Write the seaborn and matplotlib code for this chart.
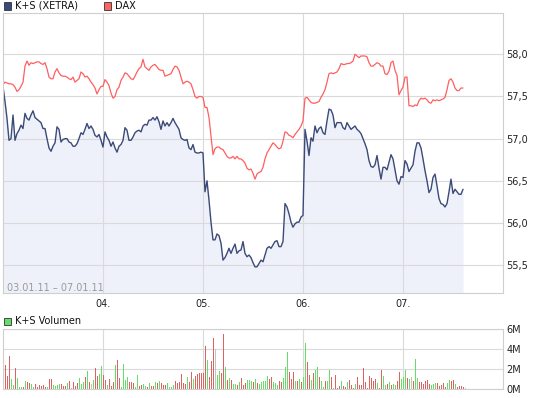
import numpy as np
import pandas as pd
import matplotlib
matplotlib.use("Agg")
import matplotlib.pyplot as plt
import seaborn as sns
from matplotlib.patches import Rectangle

# -----------------------------
# Data (intraday, 50 intervals per trading day)
# -----------------------------
ks = [
    57.62, 57.44, 57.24, 56.98, 57.00, 57.28, 56.98, 57.06, 57.10, 57.16,
    57.12, 57.30, 57.24, 57.22, 57.28, 57.33, 57.25, 57.23, 57.21, 57.19,
    57.12, 57.12, 57.00, 56.89, 56.85, 56.91, 56.95, 57.14, 57.11, 56.96,
    56.99, 57.00, 57.00, 56.96, 56.95, 56.91, 56.91, 56.94, 57.00, 57.07,
    57.05, 57.11, 57.18, 57.12, 57.15, 57.11, 57.04, 57.02, 57.05, 56.98,
    56.90, 57.08, 57.02, 56.98, 56.91, 56.96, 56.89, 56.84, 56.91, 56.93,
    56.98, 57.13, 57.10, 56.98, 56.98, 57.02, 57.07, 57.09, 57.10, 57.08,
    57.15, 57.17, 57.16, 57.22, 57.22, 57.25, 57.22, 57.26, 57.20,
    57.11, 57.21, 57.15, 57.19, 57.15, 57.19, 57.24, 57.19, 57.15, 57.11,
    57.01, 56.99, 56.98, 56.99, 56.89, 56.87, 56.93, 56.84, 56.83, 56.83,
    56.84, 56.83, 56.37, 56.50, 56.27, 56.01, 55.80, 55.80, 55.87, 55.85,
    55.76, 55.56, 55.59, 55.64, 55.70, 55.64, 55.70, 55.75, 55.64, 55.67,
    55.68, 55.78, 55.64, 55.60, 55.62, 55.59, 55.53, 55.48, 55.48, 55.52,
    55.56, 55.54, 55.62, 55.70, 55.72, 55.70, 55.74, 55.78, 55.79, 55.72,
    55.72, 55.78, 56.23, 56.19, 56.11, 56.01, 55.95, 55.99, 56.01, 56.01,
    56.07, 56.09, 57.11, 56.97, 56.80, 57.01, 56.97, 57.15,
    57.07, 57.12, 57.14, 57.07, 57.05, 57.21, 57.35, 57.34, 57.28, 57.13,
    57.19, 57.19, 57.19, 57.13, 57.11, 57.19, 57.15, 57.11, 57.13, 57.15,
    57.11, 57.09, 57.06, 57.00, 56.94, 56.87, 56.74, 56.67, 56.66, 56.69,
    56.80, 56.65, 56.52, 56.66, 56.66, 56.63, 56.72, 56.81, 56.76, 56.63,
    56.50, 56.46, 56.55, 56.54, 56.74, 56.70, 56.61, 56.65, 56.69, 56.85,
    56.95, 56.95, 56.89, 56.76, 56.62, 56.50, 56.36, 56.40, 56.54, 56.58,
    56.44, 56.29, 56.23, 56.22, 56.19, 56.23, 56.37, 56.52, 56.35, 56.40,
    56.37, 56.34, 56.34, 56.40,
]

# DAX, rescaled onto the K+S axis
dax = [
    57.64, 57.67, 57.66, 57.65, 57.65, 57.64, 57.61, 57.56, 57.58, 57.62,
    57.67, 57.86, 57.92, 57.87, 57.90, 57.89, 57.90, 57.91, 57.91, 57.89,
    57.88, 57.90, 57.83, 57.73, 57.71, 57.71, 57.79, 57.83, 57.78, 57.75,
    57.74, 57.74, 57.73, 57.71, 57.70, 57.73, 57.67, 57.69, 57.71, 57.79,
    57.77, 57.73, 57.74, 57.71, 57.67, 57.64, 57.60, 57.53, 57.58, 57.62,
    57.62, 57.70, 57.67, 57.63, 57.54, 57.48, 57.50, 57.58, 57.61, 57.69,
    57.73, 57.78, 57.77, 57.74, 57.71, 57.70, 57.74, 57.79, 57.83, 57.85,
    57.94, 57.85, 57.83, 57.81, 57.85, 57.87, 57.88, 57.85, 57.82,
    57.81, 57.81, 57.74, 57.75, 57.76, 57.77, 57.82, 57.86, 57.85, 57.81,
    57.73, 57.65, 57.67, 57.68, 57.67, 57.65, 57.58, 57.50, 57.48, 57.50,
    57.50, 57.49, 57.37, 57.37, 57.25, 57.03, 56.81, 56.88, 56.90, 56.90,
    56.88, 56.87, 56.83, 56.79, 56.77, 56.77, 56.79, 56.76, 56.79, 56.76,
    56.76, 56.74, 56.71, 56.65, 56.63, 56.64, 56.59, 56.52, 56.58, 56.60,
    56.61, 56.66, 56.76, 56.83, 56.87, 56.91, 56.95, 56.93, 56.90, 56.88,
    56.89, 56.97, 57.08, 57.07, 57.04, 57.03, 57.01, 57.05, 57.08, 57.11,
    57.15, 57.21, 57.48, 57.49, 57.46, 57.43, 57.42, 57.42,
    57.43, 57.44, 57.49, 57.53, 57.58, 57.67, 57.77, 57.78, 57.77, 57.78,
    57.79, 57.83, 57.89, 57.88, 57.88, 57.89, 57.89, 57.90, 57.92, 58.00,
    57.98, 57.96, 57.98, 57.98, 57.98, 57.97, 57.90, 57.86, 57.86, 57.88,
    57.90, 57.89, 57.86, 57.86, 57.77, 57.76, 57.80, 57.90, 57.92, 57.81,
    57.75, 57.52, 57.57, 57.61, 57.73, 57.73, 57.39, 57.39, 57.38, 57.40,
    57.39, 57.45, 57.48, 57.47, 57.48, 57.46, 57.43, 57.42, 57.46, 57.45,
    57.46, 57.45, 57.46, 57.47, 57.49, 57.58, 57.69, 57.71, 57.67, 57.60,
    57.57, 57.57, 57.60, 57.60,
]

# volume in millions, direction G = up, R = down, N = unchanged
volume = [
    3.1, 2.4, 1.3, 3.3, 1.0, 0.4, 2.1, 1.1, 0.2, 0.2,
    0.2, 0.8, 0.7, 0.6, 0.5, 0.2, 0.5, 0.2, 0.4, 0.3,
    0.4, 0.2, 0.2, 1.0, 1.0, 0.4, 0.3, 0.4, 0.5, 0.5,
    0.3, 0.3, 0.6, 0.8, 0.1, 0.7, 0.3, 0.6, 1.1, 0.5,
    0.7, 1.2, 1.8, 0.7, 0.5, 0.9, 2.1, 1.3, 1.5, 2.3,
    1.4, 0.9, 0.4, 1.0, 0.3, 0.7, 2.4, 2.9, 1.1, 0.2,
    2.5, 0.9, 1.2, 0.7, 0.7, 0.6, 0.2, 1.4, 0.3, 0.4,
    0.5, 0.3, 0.2, 0.6, 0.3, 0.3, 0.7, 0.6, 0.8, 0.6,
    0.4, 0.4, 0.6, 0.2, 0.2, 0.4, 0.8, 0.6, 0.7, 1.5,
    0.6, 0.5, 1.2, 0.7, 1.7, 1.0, 1.3, 1.5, 1.6, 1.6,
    1.6, 4.3, 2.9, 1.2, 2.8, 5.1, 4.0, 1.4, 1.8, 1.6,
    5.5, 2.2, 0.9, 1.1, 0.9, 0.5, 0.5, 0.4, 0.7, 1.1,
    0.4, 0.6, 0.9, 0.9, 0.8, 0.7, 1.0, 0.6, 0.5, 0.7,
    0.8, 0.8, 1.3, 1.0, 1.2, 0.7, 0.6, 0.4, 0.8, 0.7,
    1.1, 2.2, 3.7, 1.7, 1.0, 1.7, 0.8, 0.8, 1.0, 0.7,
    1.2, 4.6, 2.7, 1.4, 0.9, 1.6, 1.9, 2.2, 1.2, 0.8,
    0.2, 0.8, 0.8, 1.9, 1.2, 0.1, 1.4, 0.1, 0.3, 0.8,
    0.3, 0.2, 0.7, 0.9, 0.4, 0.1, 0.5, 1.2, 0.4, 0.4,
    2.1, 0.7, 0.1, 1.3, 1.1, 0.8, 1.0, 0.6, 0.1, 1.9,
    1.3, 0.4, 0.5, 0.7, 0.4, 0.5, 0.4, 0.8, 1.7, 1.0,
    1.2, 1.9, 1.1, 1.0, 1.2, 0.8, 3.0, 1.1, 0.7, 0.7,
    0.5, 0.8, 0.9, 0.5, 0.4, 0.5, 0.6, 0.6, 0.3, 0.4,
    0.6, 0.2, 0.6, 0.9, 0.8, 0.9, 0.5, 0.2, 0.3, 0.3,
    0.2, 0.1,
]
vol_dir = (
    "GRRRGGRGGG" "RGRRGGRRRR" "RRGRRGGGGR" "RRGRGRRRGG" "GRGRNGRRGG"
    "RRGRRRGRRG" "GGGRRRGGRR" "GGRGRRGRGR" "RRGGGGRRRR" "RRGRRGRRRR"
    "RRGRRRNGGR" "RGRGRGGRGR" "RRGGGRGRGG" "GGGRRGGGRR" "GGGRRRGRGR"
    "GGRRGRGGRG" "GRGGRGRRRG" "RRGRRRGRRR" "RRRRRRRGRR" "GGRGRGGRRG"
    "GGRGNRGGRR" "RRRRGGGRRR" "RRGGRRGRRR" "RN"
)

day_labels = ["04.", "05.", "06.", "07."]
price_ticks = [55.5, 56.0, 56.5, 57.0, 57.5, 58.0]
price_labels = ["55,5", "56,0", "56,5", "57,0", "57,5", "58,0"]
vol_ticks = [0, 2, 4, 6]
vol_labels = ["0M", "2M", "4M", "6M"]
period = "03.01.11 \u2013 07.01.11"

step = 0.02
df = pd.DataFrame({"t": np.arange(len(ks)) * step, "ks": ks, "dax": dax})
vdf = pd.DataFrame({
    "t": np.arange(len(volume)) * step + 0.005,
    "vol": volume,
    "dir": list(vol_dir),
})
dir_colors = {"G": "#66dd66", "R": "#dd6262", "N": "#c4c4c4"}

# -----------------------------
# Figure
# -----------------------------
sns.set_style("white")
plt.rcParams["font.family"] = ["DejaVu Sans"]

W, H = 545, 398
fig = plt.figure(figsize=(W / 100, H / 100), dpi=100)
# 500 px wide plot area -> exactly 100 px per day, 2 px per interval
ax = fig.add_axes([3 / W, 1 - 293 / H, 500 / W, (293 - 13.3) / H])
axv = fig.add_axes([3 / W, 1 - 389 / H, 500 / W, (389 - 329.3) / H])

grid_c = "#dadada"
ymin, ymax = 55.17, 58.486

# price panel
ax.fill_between(df["t"], df["ks"], ymin, color="#eef1f9", lw=0, zorder=0.3)
sns.lineplot(data=df, x="t", y="dax", ax=ax, color="#ff5f5f", lw=0.9)
sns.lineplot(data=df, x="t", y="ks", ax=ax, color="#3b4a78", lw=1.0)

ax.set_xlim(0, 5)
ax.set_ylim(ymin, ymax)
ax.set_xticks([1, 2, 3, 4], day_labels)
ax.set_yticks(price_ticks, price_labels)
ax.yaxis.tick_right()
ax.tick_params(length=0, labelsize=7, colors="#222222")
ax.tick_params(axis="x", pad=4)
ax.tick_params(axis="y", pad=2.5)
ax.set_xlabel("")
ax.set_ylabel("")
ax.set_axisbelow(True)
ax.grid(True, color=grid_c, lw=0.8)
for s in ax.spines.values():
    s.set_color("#cfcfcf")
    s.set_linewidth(0.8)

ax.text(7.3 / W, 1 - 290.7 / H, period, transform=fig.transFigure,
        fontsize=7, color="#9a9a9a", va="baseline", ha="left")

# volume panel: 1 px bars, pixel aligned so the colours stay clean
axv.bar(vdf["t"], vdf["vol"], width=0.01,
        color=[dir_colors[d] for d in vdf["dir"]], linewidth=0,
        antialiased=False)

axv.set_xlim(0, 5)
axv.set_ylim(0, 6)
axv.set_xticks([1, 2, 3, 4], [""] * 4)
axv.set_yticks(vol_ticks, vol_labels)
axv.yaxis.tick_right()
axv.tick_params(length=0, labelsize=7, colors="#222222")
axv.tick_params(axis="y", pad=2.5)
axv.set_axisbelow(True)
axv.grid(True, color=grid_c, lw=0.8)
for s in axv.spines.values():
    s.set_color("#cfcfcf")
    s.set_linewidth(0.8)

# legends
def legend_box(x, y, color, label):
    fig.add_artist(Rectangle((x / W, 1 - (y + 3.5) / H), 7 / W, 7 / H,
                             transform=fig.transFigure, facecolor=color,
                             edgecolor="#333333", lw=0.6))
    fig.text((x + 11.5) / W, 1 - y / H, label, fontsize=7,
             va="center", ha="left", color="#111111")

legend_box(3.5, 6, "#3b4a78", "K+S (XETRA)")
legend_box(103.5, 6, "#ff6464", "DAX")
legend_box(3.5, 321, "#66dd66", "K+S Volumen")

plt.savefig("out.png", dpi=100)
plt.close()
